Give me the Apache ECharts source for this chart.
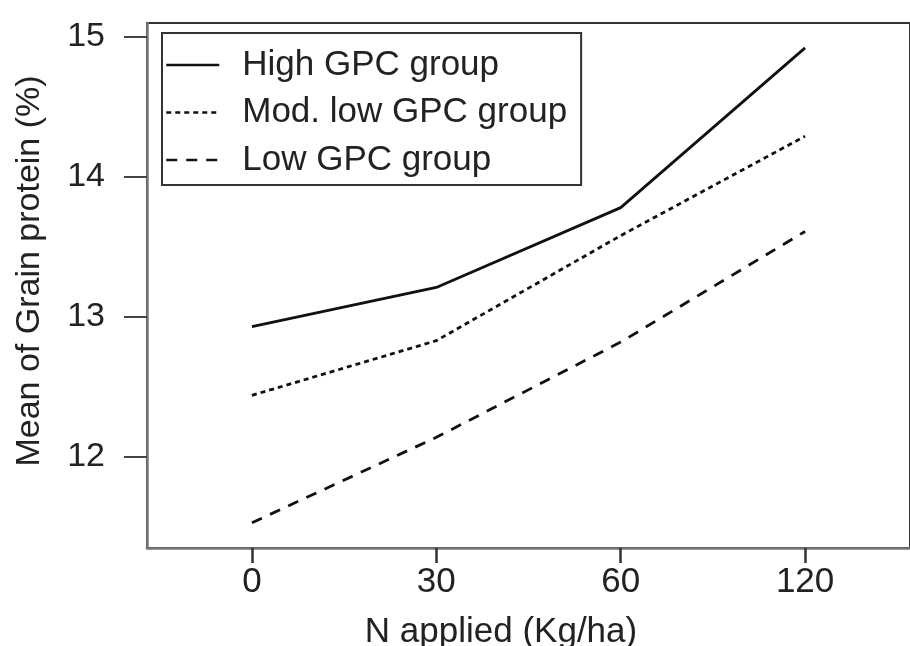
<!DOCTYPE html>
<html>
<head>
<meta charset="utf-8">
<script src="https://cdn.jsdelivr.net/npm/echarts@6/dist/echarts.min.js"></script>
<style>
html,body{margin:0;padding:0;background:#fff;}
#chart{width:910px;height:646px;}
</style>
</head>
<body>
<div id="chart"></div>
<script>
var categories = ['0', '30', '60', '120'];
var yTicks = [12, 13, 14, 15];
var highGPC = [12.93, 13.21, 13.78, 14.92];
var modLowGPC = [12.44, 12.83, 13.58, 14.29];
var lowGPC = [11.53, 12.14, 12.82, 13.61];
var seriesNames = ['High GPC group', 'Mod. low GPC group', 'Low GPC group'];

function toPoints(arr) {
  return arr.map(function (v, i) { return [i, v]; });
}
var catIdx = categories.map(function (c, i) { return i; });

var FONT = 'Liberation Sans, Arial, sans-serif';
var chart = echarts.init(document.getElementById('chart'), null, {renderer: 'canvas'});
chart.setOption({
  animation: false,
  backgroundColor: '#ffffff',
  grid: {
    left: 147, top: 23, width: 771, height: 525,
    show: true, borderColor: '#333', borderWidth: 2, backgroundColor: 'transparent'
  },
  xAxis: {
    type: 'value', min: -0.569, max: 3.569,
    splitLine: {show: false},
    axisLine: {show: true, onZero: false, lineStyle: {color: '#777', width: 2.5}},
    axisTick: {show: true, length: 15, lineStyle: {color: '#333', width: 2.5}, customValues: catIdx},
    axisLabel: {
      customValues: catIdx, margin: 17,
      formatter: function (v) { return categories[Math.round(v)]; },
      fontFamily: FONT, fontSize: 35, color: '#222'
    }
  },
  yAxis: {
    type: 'value', min: 11.35, max: 15.098,
    splitLine: {show: false},
    axisLine: {show: true, onZero: false, lineStyle: {color: '#777', width: 2.5}},
    axisTick: {show: true, length: 23, lineStyle: {color: '#444', width: 2}, customValues: yTicks},
    axisLabel: {
      customValues: yTicks, margin: 42,
      fontFamily: FONT, fontSize: 34, color: '#222'
    }
  },
  legend: {
    left: 162, top: 33, orient: 'vertical',
    data: seriesNames,
    itemWidth: 53, itemHeight: 14, itemGap: 7.5,
    padding: [12, 14, 5, 3],
    borderColor: '#333', borderWidth: 2, backgroundColor: '#fff',
    itemStyle: {opacity: 0, borderWidth: 0},
    lineStyle: {width: 2.5},
    textStyle: {fontFamily: FONT, fontSize: 35, color: '#222', lineHeight: 40, padding: [0, 0, 0, 18]}
  },
  graphic: [
    {type: 'text', x: 501, y: 632, style: {text: 'N applied (Kg/ha)', font: '35px ' + FONT, fill: '#222', align: 'center', verticalAlign: 'middle'}},
    {type: 'text', x: 30, y: 271, rotation: Math.PI / 2, style: {text: 'Mean of Grain protein (%)', font: '34px ' + FONT, fill: '#222', align: 'center', verticalAlign: 'middle'}}
  ],
  series: [
    {name: seriesNames[0], type: 'line', data: toPoints(highGPC), symbol: 'none',
     lineStyle: {color: '#111', width: 2.8, type: 'solid'}, itemStyle: {color: '#111'}},
    {name: seriesNames[1], type: 'line', data: toPoints(modLowGPC), symbol: 'none',
     lineStyle: {color: '#111', width: 2.8, type: [5, 4]}, itemStyle: {color: '#111'}},
    {name: seriesNames[2], type: 'line', data: toPoints(lowGPC), symbol: 'none',
     lineStyle: {color: '#111', width: 2.8, type: [11, 9]}, itemStyle: {color: '#111'}}
  ]
});
</script>
</body>
</html>
